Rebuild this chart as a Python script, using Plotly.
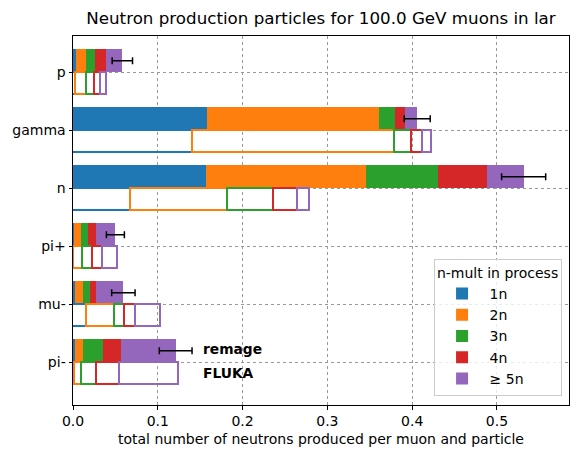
import plotly.graph_objects as go

categories = ["pi-", "mu-", "pi+", "n", "gamma", "p"]
mult_labels = ["1n", "2n", "3n", "4n", "\u2265 5n"]
colors = ["#1f77b4", "#ff7f0e", "#2ca02c", "#d62728", "#9467bd"]

remage_1n = [0.0028, 0.0020, 0.0016, 0.1565, 0.1577, 0.0032]
remage_2n = [0.0094, 0.0094, 0.0075, 0.1887, 0.2028, 0.0126]
remage_3n = [0.0232, 0.0083, 0.0082, 0.0848, 0.0189, 0.0098]
remage_4n = [0.0208, 0.0071, 0.0095, 0.0578, 0.0116, 0.0130]
remage_5n = [0.0649, 0.0326, 0.0232, 0.0437, 0.0150, 0.0196]
remage_err = [0.0193, 0.0138, 0.0106, 0.0260, 0.0153, 0.0120]

fluka_1n = [0.0028, 0.0165, 0.0016, 0.0680, 0.1415, 0.0030]
fluka_2n = [0.0078, 0.0327, 0.0102, 0.1148, 0.2379, 0.0135]
fluka_3n = [0.0177, 0.0121, 0.0118, 0.0542, 0.0200, 0.0091]
fluka_4n = [0.0271, 0.0130, 0.0118, 0.0283, 0.0130, 0.0074]
fluka_5n = [0.0701, 0.0299, 0.0181, 0.0142, 0.0114, 0.0075]

remage = [remage_1n, remage_2n, remage_3n, remage_4n, remage_5n]
fluka = [fluka_1n, fluka_2n, fluka_3n, fluka_4n, fluka_5n]

pos = list(range(len(categories)))
y_rem = [p + 0.2 for p in pos]
y_fl = [p - 0.2 for p in pos]

fig = go.Figure()
for i in range(5):
    fig.add_trace(go.Bar(
        x=remage[i], y=y_rem, orientation="h", width=0.4,
        marker=dict(color=colors[i], line=dict(width=0)),
        name=mult_labels[i], showlegend=True, legendgroup=mult_labels[i],
    ))
for i in range(5):
    fig.add_trace(go.Bar(
        x=fluka[i], y=y_fl, orientation="h", width=0.39,
        marker=dict(color="rgba(255,255,255,0)", line=dict(width=1.6, color=colors[i])),
        name=mult_labels[i], showlegend=False, legendgroup=mult_labels[i],
    ))

totals = [sum(r[j] for r in remage) for j in range(len(categories))]
fig.add_trace(go.Scatter(
    x=totals, y=y_rem, mode="markers", marker=dict(size=0.1, color="black", opacity=0),
    error_x=dict(type="data", array=remage_err, visible=True, color="black", thickness=1.5, width=3.5),
    showlegend=False, hoverinfo="skip",
))

fig.add_annotation(x=0.151, y=0.23, text="<b>remage</b>", showarrow=False, xanchor="left",
                   yanchor="middle", font=dict(size=13.8, color="black"))
fig.add_annotation(x=0.151, y=-0.18, text="<b>FLUKA</b>", showarrow=False, xanchor="left",
                   yanchor="middle", font=dict(size=13.8, color="black"))

fig.update_layout(
    width=578, height=455,
    barmode="stack", bargap=0,
    plot_bgcolor="white", paper_bgcolor="white",
    font=dict(family="DejaVu Sans", size=14, color="black"),
    margin=dict(l=73, r=9, t=36, b=50),
    title=dict(text="Neutron production particles for 100.0 GeV muons in lar",
               x=(73 + 569) / 2 / 578, xanchor="center", y=1 - 18 / 455, yanchor="middle",
               font=dict(size=16.7)),
    legend=dict(
        title=dict(text="n-mult in process", side="top center", font=dict(size=14)),
        x=0.985, xanchor="right", y=0.025, yanchor="bottom",
        bgcolor="rgba(255,255,255,0.8)", bordercolor="#cccccc", borderwidth=1,
        traceorder="normal", font=dict(size=14), tracegroupgap=1, itemwidth=45,
    ),
    xaxis=dict(
        range=[0, 0.585], tickvals=[0, 0.1, 0.2, 0.3, 0.4, 0.5], tickformat=".1f",
        showgrid=True, gridcolor="#999999", griddash="dot", gridwidth=1,
        showline=True, linecolor="black", linewidth=1, mirror=True,
        ticks="outside", ticklen=3.5, tickcolor="black", zeroline=False,
        title=dict(text="total number of neutrons produced per muon and particle",
                   font=dict(size=14), standoff=5),
    ),
    yaxis=dict(
        range=[-0.736, 5.626], tickvals=pos, ticktext=categories,
        showgrid=True, gridcolor="#999999", griddash="dot", gridwidth=1,
        showline=True, linecolor="black", linewidth=1, mirror=True,
        ticks="outside", ticklen=3.5, tickcolor="black", zeroline=False,
    ),
)

fig.write_html("out.html")
